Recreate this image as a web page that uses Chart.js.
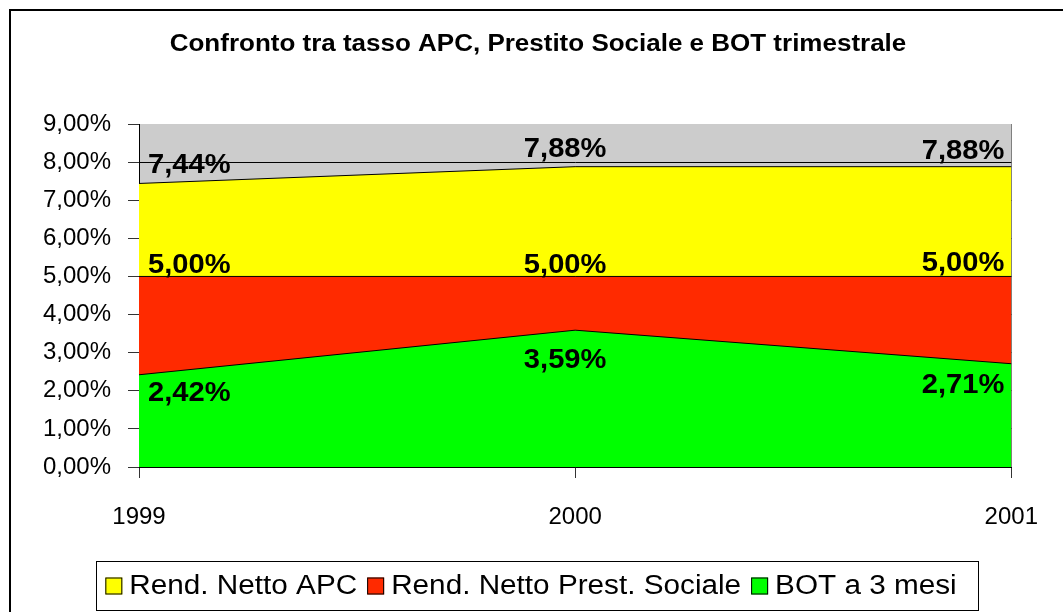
<!DOCTYPE html>
<html>
<head>
<meta charset="utf-8">
<script src="https://cdn.jsdelivr.net/npm/chart.js"></script>
<style>
  html, body { margin: 0; padding: 0; background: #fff; }
  #wrap { width: 1063px; height: 612px; position: relative; }
</style>
</head>
<body>
<div id="wrap"><canvas id="chart" width="1063" height="612"></canvas></div>
<script>
const years = ['1999', '2000', '2001'];
const apc = [7.44, 7.88, 7.88];
const prestito = [5.00, 5.00, 5.00];
const bot = [2.42, 3.59, 2.71];
const seriesNames = ['Rend. Netto APC', 'Rend. Netto Prest. Sociale', 'BOT a 3 mesi'];
const chartTitle = 'Confronto tra tasso APC, Prestito Sociale e BOT trimestrale';

const FONT = '"Liberation Sans", Arial, sans-serif';

function pct(v) {
  return v.toFixed(2).replace('.', ',') + '%';
}

// text slightly stretched horizontally, like the original rendering
function wideText(ctx, text, x, y, sx) {
  ctx.save();
  ctx.translate(x, y);
  ctx.scale(sx, 1);
  ctx.fillText(text, 0, 0);
  ctx.restore();
}

// label offsets (baseline relative to the point)
const labelDy = [[-10, -10, -8], [-3, -3, -5], [26, 38, 29]];

const framePlugin = {
  id: 'frame',
  beforeDraw(chart) {
    const { ctx, chartArea: a } = chart;
    ctx.save();
    ctx.fillStyle = '#cccccc';
    ctx.fillRect(a.left, a.top, a.right - a.left, a.bottom - a.top);
    ctx.restore();
  },
  afterDatasetsDraw(chart) {
    const ctx = chart.ctx;
    ctx.save();
    ctx.font = 'bold 28px ' + FONT;
    ctx.fillStyle = '#000';
    ctx.textBaseline = 'alphabetic';
    chart.data.datasets.forEach((ds, di) => {
      const meta = chart.getDatasetMeta(di);
      meta.data.forEach((pt, i) => {
        let x = pt.x;
        if (i === 0) { ctx.textAlign = 'left'; x += 9; }
        else if (i === meta.data.length - 1) { ctx.textAlign = 'right'; x -= 7; }
        else { ctx.textAlign = 'center'; x -= 10; }
        wideText(ctx, pct(ds.data[i]), x, pt.y + labelDy[di][i], 1.04);
      });
    });
    ctx.restore();
  },
  afterDraw(chart) {
    const ctx = chart.ctx;
    ctx.save();
    // outer frame (cropped on right/bottom)
    ctx.strokeStyle = '#000';
    ctx.lineWidth = 2;
    ctx.beginPath();
    ctx.moveTo(10, 612);
    ctx.lineTo(10, 10);
    ctx.lineTo(1063, 10);
    ctx.stroke();

    // title
    ctx.font = 'bold 23px ' + FONT;
    ctx.fillStyle = '#000';
    ctx.textAlign = 'center';
    ctx.textBaseline = 'middle';
    wideText(ctx, chartTitle, 538, 45, 1.13);

    // legend
    ctx.lineWidth = 1;
    ctx.strokeRect(96.5, 561.5, 882, 49);
    const sx = 1.1;
    ctx.font = '27px ' + FONT;
    const sq = 17, gapSq = 7, gapItem = 10;
    const items = chart.data.datasets.map(ds => ({ label: ds.label, color: ds.backgroundColor, w: ctx.measureText(ds.label).width * sx }));
    let total = 0;
    items.forEach((it, i) => { total += sq + gapSq + it.w + (i < items.length - 1 ? gapItem : 0); });
    let x = 531 - total / 2;
    const cy = 586;
    ctx.textAlign = 'left';
    ctx.textBaseline = 'middle';
    items.forEach(it => {
      ctx.fillStyle = it.color;
      ctx.fillRect(x, cy - sq / 2, sq, sq);
      ctx.strokeStyle = '#000';
      ctx.strokeRect(x + 0.5, cy - sq / 2 + 0.5, sq - 1, sq - 1);
      x += sq + gapSq;
      ctx.fillStyle = '#000';
      wideText(ctx, it.label, x, cy + 1, sx);
      x += it.w + gapItem;
    });
    ctx.restore();
  }
};

new Chart(document.getElementById('chart'), {
  type: 'line',
  data: {
    labels: years,
    datasets: [
      { label: seriesNames[0], data: apc, backgroundColor: '#ffff00', order: 3 },
      { label: seriesNames[1], data: prestito, backgroundColor: '#ff2a00', order: 2 },
      { label: seriesNames[2], data: bot, backgroundColor: '#00ff00', order: 1 }
    ].map(d => Object.assign(d, { fill: 'origin', borderColor: '#000', borderWidth: 1, pointRadius: 0, tension: 0 }))
  },
  options: {
    responsive: false,
    animation: false,
    layout: { padding: { top: 124, left: 0, right: 48, bottom: 0 } },
    plugins: {
      legend: { display: false },
      title: { display: false },
      tooltip: { enabled: false }
    },
    scales: {
      x: {
        offset: false,
        grid: {
          color: ctx => ctx.index === years.length - 1 ? '#808080' : 'rgba(0,0,0,0)',
          tickColor: '#333',
          tickLength: 11
        },
        border: { color: '#000', width: 1 },
        ticks: { color: '#000', font: { family: FONT, size: 24 }, padding: 25, maxRotation: 0 },
        afterFit: s => { s.height = 145; }
      },
      y: {
        min: 0,
        max: 9,
        ticks: { stepSize: 1, color: '#000', font: { family: FONT, size: 24 }, padding: 17, callback: v => pct(v) },
        grid: {
          color: ctx => ctx.tick && ctx.tick.value === 9 ? 'rgba(0,0,0,0)' : '#000',
          tickColor: '#333',
          tickLength: 11
        },
        border: { color: '#000', width: 1 },
        afterFit: s => { s.width = 139; }
      }
    }
  },
  plugins: [framePlugin]
});
</script>
</body>
</html>
